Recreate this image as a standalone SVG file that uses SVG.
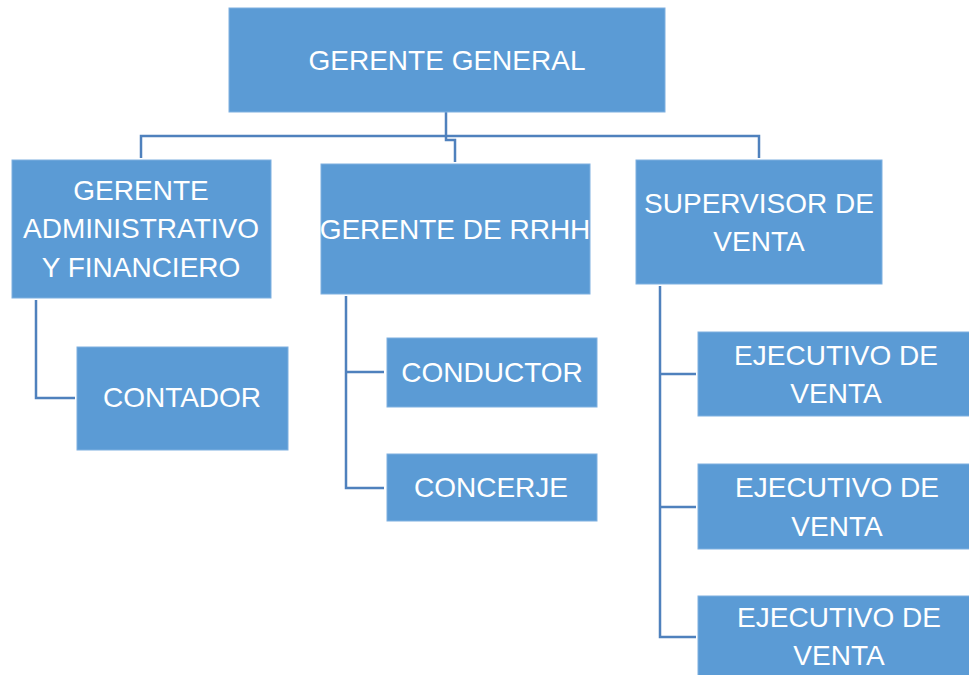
<svg xmlns="http://www.w3.org/2000/svg" width="969" height="675" viewBox="0 0 969 675">
<style>
.box{fill:#5B9BD5;stroke:#7FB0E0;stroke-width:1}
.t{font-family:"Liberation Sans",Arial,sans-serif;font-size:28px;fill:#FFFFFF;text-anchor:middle}
.c{fill:none;stroke:#4F81BD;stroke-width:2.5}
</style>
<rect width="969" height="675" fill="#FFFFFF"/>
<g id="connectors">
<path class="c" d="M446,112 V136 M141,158 V136 H759 V158 M446,136 V140 H455 V162"/>
<path class="c" d="M36,300 V398 H75"/>
<path class="c" d="M346,296 V488 H384 M346,372 H384"/>
<path class="c" d="M660,286 V637 H696 M660,374 H696 M660,507 H696"/>
</g>
<g id="gerente-general">
<rect class="box" x="229" y="8" width="436" height="104"/>
<text class="t" x="447" y="70">GERENTE GENERAL</text>
</g>
<g id="gerente-admin">
<rect class="box" x="12" y="160" width="259" height="138"/>
<text class="t" x="141" y="200">GERENTE</text>
<text class="t" x="141" y="238">ADMINISTRATIVO</text>
<text class="t" x="141" y="277">Y FINANCIERO</text>
</g>
<g id="gerente-rrhh">
<rect class="box" x="321" y="164" width="269" height="130"/>
<text class="t" x="455" y="239">GERENTE DE RRHH</text>
</g>
<g id="supervisor">
<rect class="box" x="636" y="160" width="246" height="124"/>
<text class="t" x="759" y="213">SUPERVISOR DE</text>
<text class="t" x="759" y="251">VENTA</text>
</g>
<g id="contador">
<rect class="box" x="77" y="347" width="211" height="103"/>
<text class="t" x="182" y="407">CONTADOR</text>
</g>
<g id="conductor">
<rect class="box" x="387" y="338" width="210" height="69"/>
<text class="t" x="492" y="382">CONDUCTOR</text>
</g>
<g id="concerje">
<rect class="box" x="387" y="454" width="210" height="67"/>
<text class="t" x="491" y="497">CONCERJE</text>
</g>
<g id="ejecutivo-1">
<rect class="box" x="698" y="332" width="275" height="84"/>
<text class="t" x="836" y="365">EJECUTIVO DE</text>
<text class="t" x="836" y="403">VENTA</text>
</g>
<g id="ejecutivo-2">
<rect class="box" x="698" y="464" width="275" height="85"/>
<text class="t" x="837" y="497">EJECUTIVO DE</text>
<text class="t" x="837" y="536">VENTA</text>
</g>
<g id="ejecutivo-3">
<rect class="box" x="698" y="596" width="275" height="85"/>
<text class="t" x="839" y="627">EJECUTIVO DE</text>
<text class="t" x="839" y="665">VENTA</text>
</g>
</svg>
